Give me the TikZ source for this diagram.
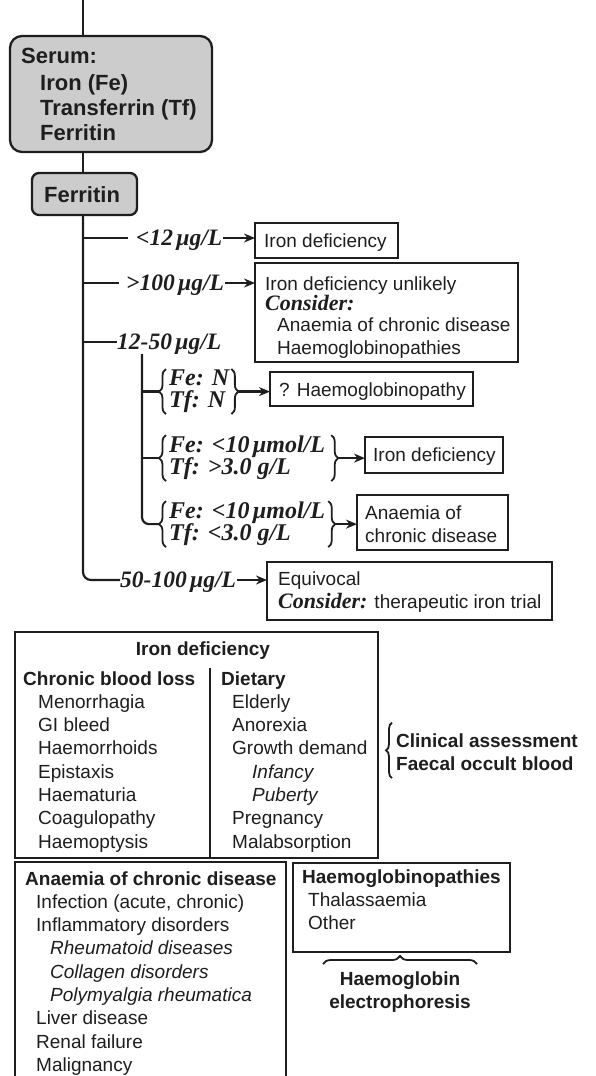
\documentclass[tikz,border=0pt]{standalone}
\usepackage{fontspec}
\setmainfont{Liberation Sans}
\newfontfamily\tnr{Liberation Serif}
\usetikzlibrary{arrows.meta,decorations.pathreplacing}
\definecolor{ink}{HTML}{1E1E1E}
\definecolor{shade}{gray}{0.80}
% stacked lines whose reference point is the first baseline
\newcommand{\txtrows}[1]{\begin{tabular}[t]{@{}l@{}}#1\end{tabular}}
\newcommand{\txtrowsc}[1]{\begin{tabular}[t]{@{}c@{}}#1\end{tabular}}
\newcommand{\sbi}{\tnr\bfseries\itshape}
\begin{document}
\begin{tikzpicture}[x=1pt,y=-1pt,
  line/.style={draw=ink, line width=2.2pt},
  arr/.style={line, -{Stealth[length=11pt,width=9pt]}},
  frame/.style={draw=ink, line width=2.3pt, anchor=north west, inner sep=0pt, outer sep=0pt},
  shaded/.style={frame, fill=shade},
  body/.style={anchor=base west, inner sep=0pt, text=ink, font=\fontsize{19}{23.3}\selectfont},
  head/.style={anchor=base west, inner sep=0pt, text=ink, font=\bfseries\fontsize{19}{23}\selectfont},
  big/.style={anchor=base west, inner sep=0pt, text=ink, font=\bfseries\fontsize{22}{25}\selectfont},
  cut/.style={anchor=base west, inner sep=0pt, text=ink, font=\sbi\fontsize{23.5}{24}\selectfont},
  cond/.style={anchor=base west, inner sep=0pt, text=ink, font=\sbi\fontsize{24}{20}\selectfont},
  brc/.style={draw=ink, line width=1.8pt, decorate, decoration={brace, amplitude=7pt}}]
\useasboundingbox (0,0) rectangle (596,1076);
\clip (0,0) rectangle (596,1076);
\fill[white] (0,0) rectangle (596,1076);

% ---------- serum tests ----------
\coordinate (top) at (83,0);
\node[shaded, rounded corners=12pt, minimum width=202pt, minimum height=116pt] (serum) at (10,36) {};
\node[big] (serumA) at (21,63) {Serum:};
\node[big] (serumB) at (40,90) {\txtrows{Iron (Fe)\\Transferrin (Tf)\\Ferritin}};
\draw[line] (top) -- (top |- serum.north);

\node[shaded, rounded corners=7pt, minimum width=105pt, minimum height=42pt] (ferr) at (32,173) {};
\node[big] (ferrT) at (44,202) {Ferritin};
\draw[line] (serum.south -| top) -- (ferr.north -| top);

% ---------- ferritin branches ----------
\coordinate (t1) at (83,238);
\coordinate (t2) at (83,283);
\coordinate (t3) at (83,342);
\coordinate (t4) at (83,580);

\node[cut] (l1) at (136,245) {<12\hspace{3pt}µg/L};
\node[cut] (l2) at (126,290) {>100\hspace{3pt}µg/L};
\node[cut] (l3) at (117,349) {12-50\hspace{3pt}µg/L};
\node[cut] (l4) at (120,587) {50-100\hspace{3pt}µg/L};

\draw[line, rounded corners=8pt] (ferr.south -| top) -- (t4) -- (l4.west |- t4);
\draw[line] (t1) -- ([xshift=-8pt]l1.west |- t1);
\draw[line] (t2) -- ([xshift=-7pt]l2.west |- t2);
\draw[line] (t3) -- (l3.west |- t3);

% < 12
\node[frame, minimum width=143pt, minimum height=35pt] (b1) at (255,223) {};
\node[body] (b1t) at (264,247) {Iron deficiency};
\draw[arr] ([xshift=1pt]l1.east |- t1) -- (b1.west |- t1);

% > 100
\node[frame, minimum width=263pt, minimum height=99pt] (b2) at (255,263) {};
\node[body] (b2t) at (265,290) {Iron deficiency unlikely};
\node[cut, font=\sbi\fontsize{22}{24}\selectfont] (b2c) at (265,310) {Consider:};
\node[body] (b2u) at (277,331) {\txtrows{Anaemia of chronic disease\\Haemoglobinopathies}};
\draw[arr] ([xshift=1pt]l2.east |- t2) -- (b2.west |- t2);

% 12-50: iron and transferrin
\coordinate (s0) at (142,354);
\node[cond] (fa) at (169,385) {\txtrows{Fe: N\\Tf: N}};
\node[cond] (fb) at (169,452) {\txtrows{Fe: <10\hspace{3pt}µmol/L\\Tf: >3.0 g/L}};
\node[cond] (fc) at (169,518) {\txtrows{Fe: <10\hspace{3pt}µmol/L\\Tf: <3.0 g/L}};

\draw[brc] ([xshift=-3pt]fa.south west) -- ([xshift=-3pt]fa.north west);
\draw[brc] ([xshift=-3pt]fb.south west) -- ([xshift=-3pt]fb.north west);
\draw[brc] ([xshift=-3pt]fc.south west) -- ([xshift=-3pt]fc.north west);
\draw[brc] ([xshift=2pt]fa.north east) -- ([xshift=2pt]fa.south east);
\draw[brc] ([xshift=6pt]fb.north east) -- ([xshift=6pt]fb.south east);
\draw[brc] ([xshift=3pt]fc.north east) -- ([xshift=3pt]fc.south east);

\coordinate (ka) at ([xshift=-10pt]fa.west);
\coordinate (kb) at ([xshift=-10pt]fb.west);
\coordinate (kc) at ([xshift=-10pt]fc.west);
\coordinate (ra) at ([xshift=9pt]fa.east);
\coordinate (rb) at ([xshift=13pt]fb.east);
\coordinate (rc) at ([xshift=10pt]fc.east);

\draw[line, rounded corners=7pt] (s0) -- (s0 |- kc) -- (kc);
\draw[line] (s0 |- ka) -- (ka);
\draw[line] (s0 |- kb) -- (kb);

\node[frame, minimum width=203pt, minimum height=34pt] (ba) at (270,372) {};
\node[body] (bat) at (279,396) {? Haemoglobinopathy};
\draw[arr] (ra) -- (ba.west |- ra);

\node[frame, minimum width=138pt, minimum height=36pt] (bb) at (365,437) {};
\node[body] (bbt) at (373,461) {Iron deficiency};
\draw[arr] (rb) -- (bb.west |- rb);

\node[frame, minimum width=151pt, minimum height=55pt] (bc) at (357,495) {};
\node[body] (bct) at (365,519) {\txtrows{Anaemia of\\chronic disease}};
\draw[arr] (rc) -- (bc.west |- rc);

% 50-100
\node[frame, minimum width=285pt, minimum height=58pt] (b4) at (267,562) {};
\node[body] (b4t) at (278,585) {Equivocal};
\node[body] (b4c) at (278,608) {{\sbi\fontsize{22}{24}\selectfont Consider:} therapeutic iron trial};
\draw[arr] ([xshift=1pt]l4.east |- t4) -- (b4.west |- t4);

% ---------- causes of iron deficiency ----------
\node[frame, minimum width=363pt, minimum height=226pt] (idbox) at (15,632) {};
\node[head, anchor=base] (idT) at (203,655) {Iron deficiency};
\coordinate (divtop) at (210,668);
\draw[line] (divtop) -- (divtop |- idbox.south);
\node[body] (cbl) at (23,685) {\txtrows{\textbf{Chronic blood loss}\\
  \hspace*{15pt}Menorrhagia\\ \hspace*{15pt}GI bleed\\ \hspace*{15pt}Haemorrhoids\\
  \hspace*{15pt}Epistaxis\\ \hspace*{15pt}Haematuria\\ \hspace*{15pt}Coagulopathy\\
  \hspace*{15pt}Haemoptysis}};
\node[body] (diet) at (221,685) {\txtrows{\textbf{Dietary}\\
  \hspace*{11pt}Elderly\\ \hspace*{11pt}Anorexia\\ \hspace*{11pt}Growth demand\\
  \hspace*{31pt}\textit{Infancy}\\ \hspace*{31pt}\textit{Puberty}\\
  \hspace*{11pt}Pregnancy\\ \hspace*{11pt}Malabsorption}};

\node[head] (clin) at (396,747) {\txtrows{Clinical assessment\\Faecal occult blood}};
\draw[brc, decoration={brace, amplitude=6pt}] ([xshift=-4pt,yshift=-1pt]clin.south west) -- ([xshift=-4pt,yshift=8pt]clin.north west);

% ---------- anaemia of chronic disease ----------
\node[frame, minimum width=271pt, minimum height=260pt] (acd) at (15,862) {};
\node[body] (acdT) at (25,885) {\txtrows{\textbf{Anaemia of chronic disease}\\
  \hspace*{11pt}Infection (acute, chronic)\\ \hspace*{11pt}Inflammatory disorders\\
  \hspace*{25pt}\textit{Rheumatoid diseases}\\ \hspace*{25pt}\textit{Collagen disorders}\\
  \hspace*{25pt}\textit{Polymyalgia rheumatica}\\ \hspace*{11pt}Liver disease\\
  \hspace*{11pt}Renal failure\\ \hspace*{11pt}Malignancy}};

% ---------- haemoglobinopathies ----------
\node[frame, minimum width=217pt, minimum height=89pt] (hb) at (293,863) {};
\node[body] (hbT) at (302,883) {\txtrows{\textbf{Haemoglobinopathies}\\
  \hspace*{6pt}Thalassaemia\\ \hspace*{6pt}Other}};
\coordinate (hbl) at (323,964);
\coordinate (hbr) at (477,964);
\draw[brc, decoration={brace, amplitude=8pt}] (hbl) -- (hbr);
\node[head, anchor=base] (hbE) at (400,985) {\txtrowsc{Haemoglobin\\electrophoresis}};
\end{tikzpicture}
\end{document}
